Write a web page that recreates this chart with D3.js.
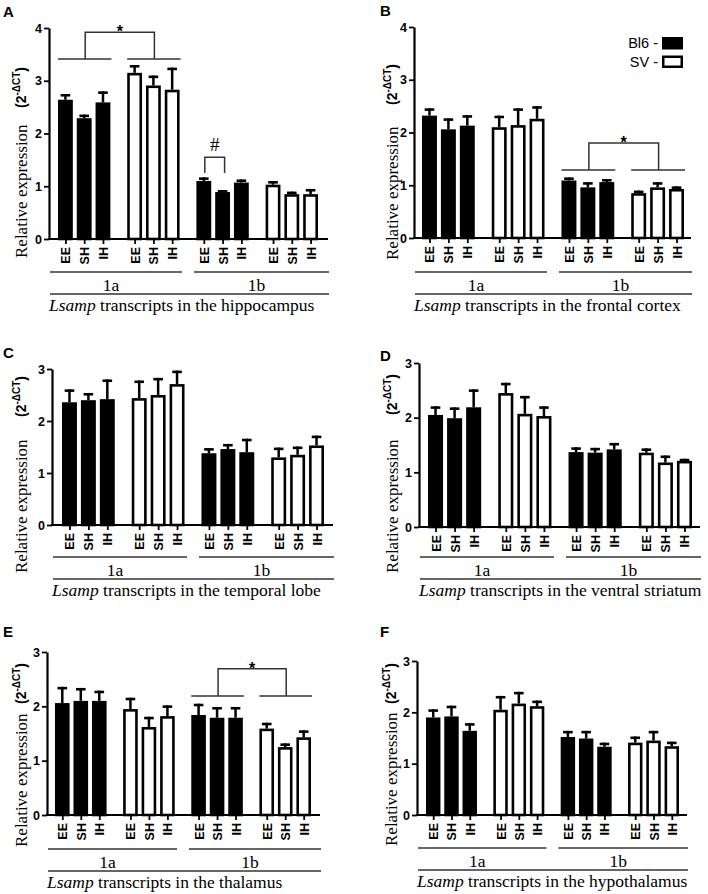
<!DOCTYPE html>
<html><head><meta charset="utf-8">
<script src="https://cdn.jsdelivr.net/npm/d3@7"></script>
<style>body{margin:0;background:#fff} svg{display:block}</style>
</head><body>
<svg id="chart" width="708" height="894"></svg>
<script>
// ---------- data ----------
const strains = ["Bl6", "SV"];
const transcripts = ["1a", "1b"];
const conditions = ["EE", "SH", "IH"];
const groupKeys = ["Bl6 1a", "SV 1a", "Bl6 1b", "SV 1b"];
const regions = ["hippocampus", "frontal cortex", "temporal lobe", "ventral striatum", "thalamus", "hypothalamus"];
const panelLetters = ["A", "B", "C", "D", "E", "F"];
const yMaxes = [4, 4, 3, 3, 3, 3];
const yTicks4 = [0, 1, 2, 3, 4];
const yTicks3 = [0, 1, 2, 3];

// order: Bl6 1a (EE,SH,IH), SV 1a, Bl6 1b, SV 1b
const hippocampusMean = [2.64, 2.29, 2.59, 3.15, 2.91, 2.83, 1.10, 0.89, 1.07, 1.03, 0.85, 0.85];
const hippocampusErr  = [0.09, 0.05, 0.19, 0.13, 0.17, 0.40, 0.05, 0.02, 0.04, 0.05, 0.03, 0.08];
const frontalMean = [2.32, 2.06, 2.13, 2.10, 2.14, 2.26, 1.09, 0.96, 1.06, 0.85, 0.96, 0.93];
const frontalErr  = [0.12, 0.19, 0.18, 0.20, 0.30, 0.22, 0.04, 0.08, 0.04, 0.03, 0.08, 0.03];
const temporalMean = [2.36, 2.40, 2.42, 2.44, 2.50, 2.71, 1.38, 1.46, 1.40, 1.30, 1.35, 1.53];
const temporalErr  = [0.23, 0.12, 0.36, 0.32, 0.31, 0.24, 0.08, 0.08, 0.24, 0.17, 0.14, 0.17];
const striatumMean = [2.05, 1.99, 2.19, 2.45, 2.07, 2.03, 1.37, 1.36, 1.42, 1.36, 1.18, 1.21];
const striatumErr  = [0.14, 0.18, 0.31, 0.17, 0.31, 0.16, 0.07, 0.07, 0.10, 0.06, 0.11, 0.02];
const thalamusMean = [2.06, 2.10, 2.10, 1.95, 1.62, 1.82, 1.84, 1.79, 1.79, 1.59, 1.25, 1.43];
const thalamusErr  = [0.28, 0.22, 0.17, 0.19, 0.17, 0.18, 0.19, 0.18, 0.18, 0.09, 0.05, 0.11];
const hypothalamusMean = [1.90, 1.92, 1.64, 2.05, 2.17, 2.12, 1.52, 1.49, 1.33, 1.41, 1.45, 1.34];
const hypothalamusErr  = [0.14, 0.19, 0.13, 0.25, 0.21, 0.09, 0.10, 0.13, 0.06, 0.10, 0.17, 0.07];

const means = [hippocampusMean, frontalMean, temporalMean, striatumMean, thalamusMean, hypothalamusMean];
const errs = [hippocampusErr, frontalErr, temporalErr, striatumErr, thalamusErr, hypothalamusErr];

// significance annotations (value units)
const groupBrackets = [
  {panel: 0, g1: "Bl6 1a", g2: "SV 1a", base: 3.41, top: 3.92, label: "*"},
  {panel: 1, g1: "Bl6 1b", g2: "SV 1b", base: 1.29, top: 1.80, label: "*"},
  {panel: 4, g1: "Bl6 1b", g2: "SV 1b", base: 2.19, top: 2.69, label: "*"}
];
const barBrackets = [
  {panel: 0, group: "Bl6 1b", c1: "EE", c2: "SH", base: 1.25, top: 1.55, label: "#"}
];

// ---------- layout ----------
const layouts = [
  {lx: 3,   ly: 17,  axisX: 49,  axisEnd: 328, y0: 239, yTop: 28,  bars: [58, 318],  lineY: 272, ytX: 27,  ytStart: 258, supStart: 108},
  {lx: 380, ly: 16,  axisX: 414, axisEnd: 691, y0: 238, yTop: 27,  bars: [422, 684], lineY: 272, ytX: 398, ytStart: 260, supStart: 105},
  {lx: 3,   ly: 358, axisX: 52,  axisEnd: 333, y0: 525, yTop: 369, bars: [62, 324],  lineY: 557, ytX: 27,  ytStart: 573, supStart: 417},
  {lx: 380, ly: 361, axisX: 419, axisEnd: 700, y0: 527, yTop: 363, bars: [428, 692], lineY: 557, ytX: 398, ytStart: 573, supStart: 415},
  {lx: 3,   ly: 637, axisX: 47,  axisEnd: 320, y0: 815, yTop: 652, bars: [55, 311],  lineY: 849, ytX: 27,  ytStart: 847, supStart: 704},
  {lx: 380, ly: 637, axisX: 417, axisEnd: 687, y0: 815, yTop: 661, bars: [426, 679], lineY: 848, ytX: 397, ytStart: 846, supStart: 704}
];

const SANS = "'Liberation Sans', Arial, sans-serif";
const SERIF = "'Liberation Serif', 'Times New Roman', serif";
const svg = d3.select("#chart");
svg.append("rect").attr("width", 708).attr("height", 894).attr("fill", "#fff");

const scalesByPanel = [];

layouts.forEach((L, pi) => {
  const g = svg.append("g");
  const yMax = yMaxes[pi];
  const y = d3.scaleLinear().domain([0, yMax]).range([L.y0, L.yTop]);
  const xg = d3.scaleBand().domain(groupKeys).range(L.bars).paddingInner(0.243).paddingOuter(0);
  const xi = d3.scaleBand().domain(conditions).range([0, xg.bandwidth()]).paddingInner(0.21).paddingOuter(0);
  scalesByPanel.push({y, xg, xi});
  const bw = xi.bandwidth();
  const data = [];
  groupKeys.forEach((gk, gi) => conditions.forEach((c, ci) => {
    data.push({id: gk + " " + c, gk, c, strain: strains[gi % 2], v: means[pi][gi * 3 + ci], e: errs[pi][gi * 3 + ci]});
  }));
  const cx = d => xg(d.gk) + xi(d.c) + bw / 2;

  g.append("text").attr("x", L.lx).attr("y", L.ly).text(panelLetters[pi])
    .style("font-family", SANS).style("font-weight", "bold").style("font-size", "15px");

  const sw = 2.6;
  g.selectAll("rect.bar").data(data).join("rect").attr("class", "bar")
    .attr("x", d => xg(d.gk) + xi(d.c) + sw / 2)
    .attr("width", bw - sw)
    .attr("y", d => y(d.v) + sw / 2)
    .attr("height", d => L.y0 - y(d.v) - sw / 2)
    .attr("fill", d => d.strain === "Bl6" ? "#000" : "#fff")
    .attr("stroke", "#000").attr("stroke-width", sw);

  g.selectAll("line.stem").data(data).join("line").attr("class", "stem")
    .attr("x1", cx).attr("x2", cx)
    .attr("y1", d => y(d.v)).attr("y2", d => y(d.v + d.e) - 1)
    .attr("stroke", "#000").attr("stroke-width", 2.5);
  g.selectAll("line.cap").data(data).join("line").attr("class", "cap")
    .attr("x1", d => cx(d) - 4.8).attr("x2", d => cx(d) + 4.8)
    .attr("y1", d => y(d.v + d.e) + 0.3).attr("y2", d => y(d.v + d.e) + 0.3)
    .attr("stroke", "#000").attr("stroke-width", 2.6);

  const yAxis = d3.axisLeft(y).tickValues(yMax === 4 ? yTicks4 : yTicks3).tickSize(5).tickSizeOuter(0).tickPadding(2).tickFormat(d3.format("d"));
  const ya = g.append("g").attr("transform", `translate(${L.axisX},0)`).call(yAxis);
  ya.select(".domain").attr("stroke-width", 2.2).attr("stroke", "#000");
  ya.selectAll(".tick line").attr("stroke-width", 1.8).attr("stroke", "#000");
  ya.selectAll(".tick text").style("font-family", SANS).style("font-weight", "bold").style("font-size", "12.5px").attr("fill", "#000");

  const xBar = d3.scaleOrdinal().domain(data.map(d => d.id)).range(data.map(cx));
  const xAxis = d3.axisBottom(xBar).tickSize(5).tickSizeOuter(0).tickFormat(id => id.split(" ").pop());
  const xa = g.append("g").attr("transform", `translate(0,${L.y0})`).call(xAxis);
  xa.select(".domain").remove();
  xa.selectAll(".tick line").attr("stroke-width", 1.8).attr("stroke", "#000");
  xa.selectAll(".tick text")
    .attr("transform", "rotate(-90)").attr("text-anchor", "end")
    .attr("x", -8).attr("y", 0).attr("dy", "0.36em")
    .style("font-family", SANS).style("font-weight", "bold").style("font-size", "12.5px").attr("fill", "#000");
  g.append("line").attr("x1", L.axisX - 1).attr("x2", L.axisEnd).attr("y1", L.y0).attr("y2", L.y0)
    .attr("stroke", "#000").attr("stroke-width", 2.2);

  const mid = (xg("SV 1a") + xg.bandwidth() + xg("Bl6 1b")) / 2;
  const segs = [[L.axisX + 1, mid - 6], [mid + 6, L.axisEnd + 1]];
  transcripts.forEach((t, ti) => {
    g.append("line").attr("x1", segs[ti][0]).attr("x2", segs[ti][1]).attr("y1", L.lineY).attr("y2", L.lineY)
      .attr("stroke", "#333").attr("stroke-width", 1.5);
    g.append("text").attr("x", (segs[ti][0] + segs[ti][1]) / 2 - 5).attr("y", L.lineY + 19)
      .attr("text-anchor", "middle").style("font-family", SERIF).style("font-size", "17.5px").text(t);
  });
  g.append("line").attr("x1", L.axisX + 1).attr("x2", L.axisEnd + 1).attr("y1", L.lineY + 22).attr("y2", L.lineY + 22)
    .attr("stroke", "#333").attr("stroke-width", 1.5);
  const title = g.append("text").attr("x", L.axisX).attr("y", L.lineY + 39)
    .style("font-family", SERIF).style("font-size", "17.5px");
  title.append("tspan").style("font-style", "italic").text("Lsamp");
  title.append("tspan").text(" transcripts in the " + regions[pi]);

  g.append("text").attr("transform", `translate(${L.ytX},${L.ytStart}) rotate(-90)`)
    .style("font-family", SERIF).style("font-size", "17px").text("Relative expression");
  const yt2 = g.append("text").attr("transform", `translate(${L.ytX - 1},${L.supStart}) rotate(-90)`)
    .style("font-family", SANS).style("font-weight", "bold").style("font-size", "14px");
  yt2.append("tspan").text("(2");
  yt2.append("tspan").style("font-size", "10px").attr("dy", -6).text("-ΔCT");
  yt2.append("tspan").attr("dy", 6).text(")");
});

groupBrackets.forEach(b => {
  const {y, xg} = scalesByPanel[b.panel];
  const g = svg.append("g").attr("stroke", "#333").attr("stroke-width", 1.5).attr("fill", "none");
  const yb = y(b.base), yt = y(b.top);
  [b.g1, b.g2].forEach(k => {
    g.append("line").attr("x1", xg(k)).attr("x2", xg(k) + xg.bandwidth() + 1).attr("y1", yb).attr("y2", yb);
  });
  const c1 = xg(b.g1) + xg.bandwidth() / 2 + 1, c2 = xg(b.g2) + xg.bandwidth() / 2 + 1;
  g.append("path").attr("d", `M${c1},${yb}V${yt}H${c2}V${yb}`);
  svg.append("text").attr("x", (c1 + c2) / 2).attr("y", yt + 5).attr("text-anchor", "middle")
    .style("font-family", SANS).style("font-weight", "bold").style("font-size", "16px").text(b.label);
});
barBrackets.forEach(b => {
  const {y, xg, xi} = scalesByPanel[b.panel];
  const x1 = xg(b.group) + xi(b.c1) + xi.bandwidth() / 2 + 1;
  const x2 = xg(b.group) + xi(b.c2) + xi.bandwidth() / 2 + 2;
  const yb = y(b.base), yt = y(b.top);
  svg.append("path").attr("d", `M${x1},${yb}V${yt}H${x2}V${yb}`)
    .attr("stroke", "#333").attr("stroke-width", 1.5).attr("fill", "none");
  svg.append("text").attr("x", (x1 + x2) / 2).attr("y", yt - 6).attr("text-anchor", "middle")
    .style("font-family", SERIF).style("font-size", "19px").text(b.label);
});

const lg = svg.append("g");
strains.forEach((s, i) => {
  const yy = 37 + i * 18.5;
  lg.append("text").attr("x", 658).attr("y", yy + 11).attr("text-anchor", "end")
    .style("font-family", SANS).style("font-size", "14.5px").text(s + " -");
  lg.append("rect").attr("x", 663.25).attr("y", yy + 1.25).attr("width", 18.5).attr("height", 10)
    .attr("fill", s === "Bl6" ? "#000" : "#fff").attr("stroke", "#000").attr("stroke-width", 2.5);
});
</script>
</body></html>
